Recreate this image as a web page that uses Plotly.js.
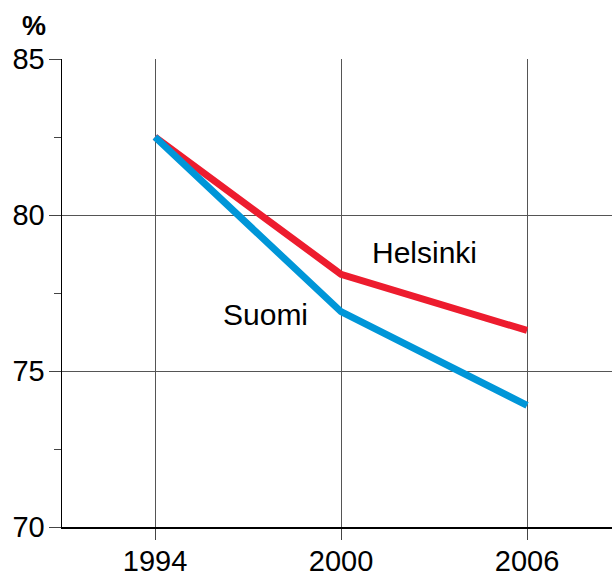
<!DOCTYPE html>
<html>
<head>
<meta charset="utf-8">
<script src="https://cdn.plot.ly/plotly-3.0.1.min.js"></script>
<style>
html,body{margin:0;padding:0;background:#fff;overflow:hidden;}
#chart{width:612px;height:577px;}
</style>
</head>
<body>
<div id="chart"></div>
<script>
const years = [1994, 2000, 2006];
const helsinki = [82.5, 78.1, 76.3];
const suomi = [82.5, 76.9, 73.9];
const seriesNames = ["Helsinki", "Suomi"];
const yTicks = [70, 75, 80, 85];

const traces = [
  {x: years, y: helsinki, name: seriesNames[0], mode: "lines", type: "scatter",
   line: {color: "#ED1C2E", width: 7}},
  {x: years, y: suomi, name: seriesNames[1], mode: "lines", type: "scatter",
   line: {color: "#0096D8", width: 7}}
];

const layout = {
  width: 612, height: 577,
  margin: {l: 62, r: 0, t: 59, b: 50, pad: 0},
  paper_bgcolor: "#fff", plot_bgcolor: "#fff",
  showlegend: false,
  font: {family: "Liberation Sans, Arial, sans-serif", color: "#000"},
  xaxis: {
    range: [1991, 2008.74],
    tickvals: years, ticktext: years.map(String),
    ticks: "outside", ticklen: 11, tickwidth: 1, tickcolor: "#444",
    ticklabelstandoff: -3,
    showgrid: true, gridcolor: "#555", gridwidth: 1,
    showline: true, linecolor: "#000", linewidth: 1.5,
    zeroline: false,
    tickfont: {size: 29, color: "#000"}
  },
  yaxis: {
    range: [70, 85],
    tickvals: yTicks, ticktext: yTicks.map(String),
    ticks: "outside", ticklen: 12, tickwidth: 1, tickcolor: "#444",
    ticklabelstandoff: -2,
    minor: {tickvals: [72.5, 77.5, 82.5], ticks: "outside", ticklen: 7, tickwidth: 1, tickcolor: "#444", showgrid: false},
    showgrid: true, gridcolor: "#555", gridwidth: 1,
    showline: true, linecolor: "#000", linewidth: 1.5,
    zeroline: false,
    tickfont: {size: 29, color: "#000"}
  },
  annotations: [
    {x: 2002.7, y: 78.81, xref: "x", yref: "y", text: seriesNames[0], showarrow: false,
     font: {size: 30, color: "#000"}, xanchor: "center", yanchor: "middle"},
    {x: 1997.57, y: 76.8, xref: "x", yref: "y", text: seriesNames[1], showarrow: false,
     font: {size: 30, color: "#000"}, xanchor: "center", yanchor: "middle"},
    {x: (33.5 - 62) / 550, y: 1 + (59 - 25.5) / 468, xref: "paper", yref: "paper", text: "<b>%</b>",
     showarrow: false, font: {size: 27, color: "#000"}, xanchor: "center", yanchor: "middle"}
  ]
};

Plotly.newPlot("chart", traces, layout, {displayModeBar: false, staticPlot: true});
</script>
</body>
</html>
